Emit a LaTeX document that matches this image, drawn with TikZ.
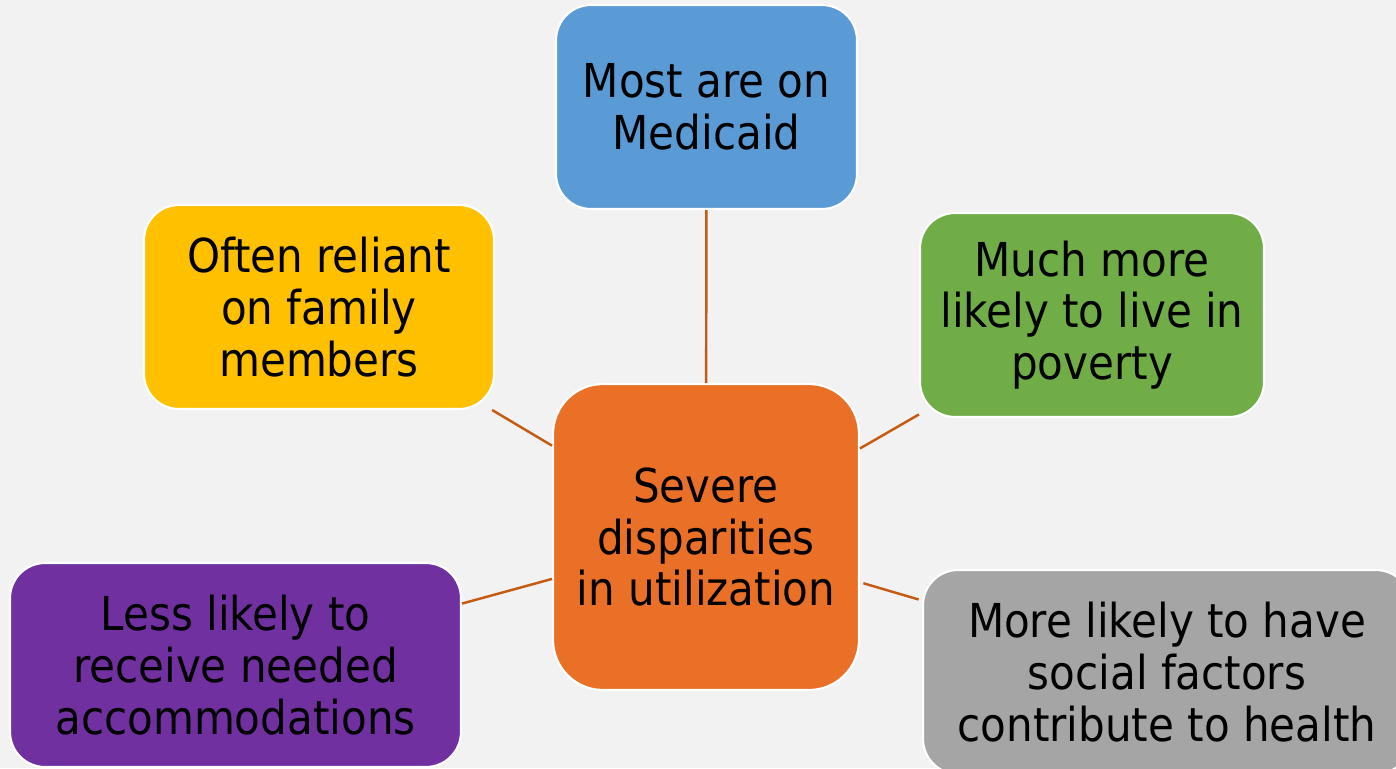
\documentclass[tikz,border=0pt]{standalone}
\usepackage{fontspec}
\setmainfont{DejaVu Sans Condensed}
\usepackage{tikz}
\usetikzlibrary{positioning}

\definecolor{bg}{HTML}{F2F2F2}
\definecolor{linkc}{HTML}{C55A11}
\definecolor{cblue}{HTML}{5B9BD5}
\definecolor{cyellow}{HTML}{FFC000}
\definecolor{cgreen}{HTML}{70AD47}
\definecolor{corange}{HTML}{E97026}
\definecolor{cpurple}{HTML}{7030A0}
\definecolor{cgray}{HTML}{A5A5A5}

\begin{document}
\begin{tikzpicture}[x=0.02cm, y=-0.02cm,
      box/.style={draw=white, line width=1.2pt, rounded corners=0.7cm, align=center,
                  inner sep=0pt, minimum height=4.08cm,
                  font=\fontsize{26.6}{29.5}\selectfont},
      link/.style={draw=linkc, line width=1.4pt, shorten <=2pt, shorten >=2pt}]
      \fill [bg] (0, 0) rectangle (1396, 768);
      \clip (0, 0) rectangle (1396, 768);
      % centre box and the five around it
      \node (hub) [box, fill=corange, rounded corners=1cm, minimum width=6.12cm, minimum height=6.12cm]
            at (706, 537) {Severe\\disparities\\in utilization};
      \node (medic) [box, fill=cblue, minimum width=6.02cm] at (706.5, 107) {Most are on\\Medicaid};
      \node (family) [box, fill=cyellow, minimum width=7cm] at (319, 307) {Often reliant\\on family\\members};
      \node (poverty) [box, fill=cgreen, minimum width=6.88cm] at (1092, 315) {Much more\\likely to live in\\poverty};
      \node (accom) [box, fill=cpurple, minimum width=9.02cm] at (235.5, 665) {Less likely to\\receive needed\\accommodations};
      \node (social) [box, fill=cgray, minimum width=9.76cm] at (1167, 672) {More likely to have\\social factors\\contribute to health};
      \draw [link] (hub) -- (medic)
                   (hub) -- (family)
                   (hub) -- (poverty)
                   (hub) -- (accom)
                   (hub) -- (social);
\end{tikzpicture}
\end{document}
